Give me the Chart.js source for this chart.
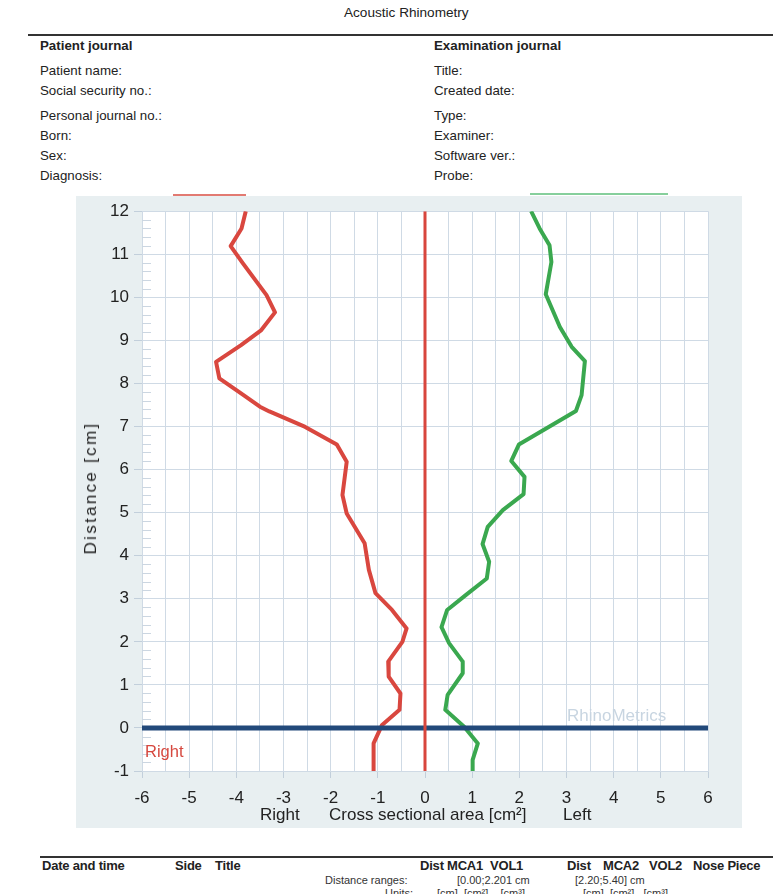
<!DOCTYPE html>
<html>
<head>
<meta charset="utf-8">
<script src="https://cdn.jsdelivr.net/npm/chart.js@4.4.1/dist/chart.umd.min.js"></script>
<style>
	body { margin: 0; background: #fff; font-family: "Liberation Sans", Arial, sans-serif; color: #222; }
	#page { position: relative; width: 773px; height: 894px; overflow: hidden; }
	.t { position: absolute; white-space: nowrap; font-size: 13.3px; line-height: 16px; }
	.b { font-weight: bold; }
	.f { font-size: 13px; letter-spacing: -0.2px; }
	.s { font-size: 11px; line-height: 13px; color: #333; }
	.rule { position: absolute; height: 2px; background: #333; }
	#box { position: absolute; left: 76px; top: 196px; width: 666px; height: 632px; background: #e8eff1; }
	#chartWrap { position: absolute; left: 76px; top: 196px; width: 666px; height: 632px; }
</style>
</head>
<body>
<div id="page">
	<div class="t" style="left:344px;top:5px;font-size:13.6px;">Acoustic Rhinometry</div>
	<div class="rule" style="left:28px;top:34px;width:745px;"></div>

	<div class="t b" style="left:40px;top:38px;">Patient journal</div>
	<div class="t" style="left:40px;top:63px;">Patient name:</div>
	<div class="t" style="left:40px;top:83px;">Social security no.:</div>
	<div class="t" style="left:40px;top:108px;">Personal journal no.:</div>
	<div class="t" style="left:40px;top:128px;">Born:</div>
	<div class="t" style="left:40px;top:148px;">Sex:</div>
	<div class="t" style="left:40px;top:168px;">Diagnosis:</div>

	<div class="t b" style="left:434px;top:38px;">Examination journal</div>
	<div class="t" style="left:434px;top:63px;">Title:</div>
	<div class="t" style="left:434px;top:83px;">Created date:</div>
	<div class="t" style="left:434px;top:108px;">Type:</div>
	<div class="t" style="left:434px;top:128px;">Examiner:</div>
	<div class="t" style="left:434px;top:148px;">Software ver.:</div>
	<div class="t" style="left:434px;top:168px;">Probe:</div>

	<div id="box"></div>
	<div style="position:absolute;left:173px;top:194px;width:73px;height:2px;background:#e27a72;"></div>
	<div style="position:absolute;left:530px;top:193px;width:138px;height:2px;background:#86cf9c;"></div>
	<div id="chartWrap"><canvas id="rhinoChart" width="666" height="632"></canvas></div>

	<div class="t" style="top:488px;left:91px;font-size:17px;line-height:18px;letter-spacing:2.3px;transform:translate(-50%,-50%) rotate(-90deg);transform-origin:center;">Distance [cm]</div>
	<div class="t" style="left:567px;top:706px;font-size:17px;line-height:20px;color:#c8d5e1;">RhinoMetrics</div>
	<div class="t" style="left:145px;top:741px;font-size:16.5px;line-height:20px;color:#d6483f;">Right</div>
	<div class="t" style="left:260px;top:805px;font-size:17px;line-height:19px;">Right</div>
	<div class="t" style="left:329px;top:805px;font-size:17px;line-height:19px;">Cross sectional area [cm²]</div>
	<div class="t" style="left:563px;top:805px;font-size:17px;line-height:19px;">Left</div>

	<div class="rule" style="left:40px;top:856px;width:733px;height:1.5px;"></div>
	<div class="t b f" style="left:42px;top:858px;">Date and time</div>
	<div class="t b f" style="left:175px;top:858px;">Side</div>
	<div class="t b f" style="left:215px;top:858px;">Title</div>
	<div class="t b f" style="left:420px;top:858px;">Dist</div>
	<div class="t b f" style="left:447px;top:858px;">MCA1</div>
	<div class="t b f" style="left:490px;top:858px;">VOL1</div>
	<div class="t b f" style="left:567px;top:858px;">Dist</div>
	<div class="t b f" style="left:603px;top:858px;">MCA2</div>
	<div class="t b f" style="left:649px;top:858px;">VOL2</div>
	<div class="t b f" style="left:693px;top:858px;">Nose Piece</div>
	<div class="t s" style="left:325px;top:874px;">Distance ranges:</div>
	<div class="t s" style="left:457px;top:874px;">[0.00;2.201 cm</div>
	<div class="t s" style="left:575px;top:874px;">[2.20;5.40] cm</div>
	<div class="t s" style="left:385px;top:887px;">Units:</div>
	<div class="t s" style="left:437px;top:887px;">[cm] &nbsp;[cm²] &nbsp;&nbsp;&nbsp;[cm³]</div>
	<div class="t s" style="left:583px;top:887px;">[cm] &nbsp;[cm²] &nbsp;&nbsp;[cm³]</div>
</div>

<script>
//	Right side (red) curve: distance [cm] and cross sectional area [cm2], drawn as negative
var rightDist = [12, 11.6, 11.19, 10.79, 10.05, 9.65, 9.24, 8.89, 8.5, 8.12, 7.77, 7.46, 7.35, 6.99, 6.58, 6.18, 5.41, 4.98, 4.29, 3.67, 3.13, 2.74, 2.31, 2.0, 1.54, 1.19, 0.8, 0.42, 0.07, -0.36, -1.0];
var rightArea = [-3.8, -3.89, -4.12, -3.86, -3.36, -3.18, -3.47, -3.9, -4.43, -4.36, -3.9, -3.5, -3.3, -2.54, -1.87, -1.66, -1.75, -1.66, -1.28, -1.19, -1.05, -0.7, -0.39, -0.48, -0.78, -0.77, -0.52, -0.54, -0.91, -1.09, -1.09];

//	Left side (green) curve
var leftDist = [12, 11.6, 11.21, 10.82, 10.07, 9.31, 8.85, 8.52, 7.73, 7.36, 6.58, 6.2, 5.83, 5.43, 5.06, 4.67, 4.27, 3.86, 3.47, 3.09, 2.74, 2.34, 1.97, 1.54, 1.27, 0.77, 0.42, 0.03, -0.36, -0.74, -1.0];
var leftArea = [2.25, 2.43, 2.64, 2.68, 2.56, 2.86, 3.11, 3.39, 3.32, 3.2, 1.99, 1.83, 2.11, 2.09, 1.65, 1.33, 1.22, 1.36, 1.31, 0.87, 0.47, 0.35, 0.51, 0.8, 0.8, 0.48, 0.43, 0.83, 1.12, 1.01, 1.01];

//	Axis ranges and ticks
var areaMin = -6, areaMax = 6;
var distMin = -1, distMax = 12;
var distMinorStep = 0.2;

function toPoints(xs, ys) {
	var pts = [];
	for (let i = 0; i < xs.length; i++) {
		pts.push({ x: xs[i], y: ys[i] });
	}
	return pts;
}

function isWhole(v) {
	return Math.abs(v - Math.round(v)) < 1e-6;
}

//	White plot area + short minor ticks on the distance axis
var plotBackground = {
	id: 'plotBackground',
	beforeDraw: function (chart) {
		var a = chart.chartArea, ctx = chart.ctx;
		ctx.save();
		ctx.fillStyle = '#ffffff';
		ctx.fillRect(a.left, a.top, a.right - a.left, a.bottom - a.top);
		ctx.restore();
	},
	beforeDatasetsDraw: function (chart) {
		var a = chart.chartArea, ctx = chart.ctx, y = chart.scales.y;
		ctx.save();
		ctx.strokeStyle = '#cbd6e1';
		ctx.lineWidth = 1;
		for (let i = 1; i < (distMax - distMin) / distMinorStep; i++) {
			var v = distMin + i * distMinorStep;
			if (isWhole(v)) continue;
			var py = Math.round(y.getPixelForValue(v)) + 0.5;
			ctx.beginPath();
			ctx.moveTo(a.left, py);
			ctx.lineTo(a.left + 9, py);
			ctx.stroke();
		}
		ctx.restore();
	}
};

var ctx = document.getElementById('rhinoChart');
var rhinoChart = new Chart(ctx, {
	type: 'scatter',
	data: {
		datasets: [{
				//	center line
				data: toPoints([0, 0], [distMin, distMax]),
				borderColor: '#d8463d',
				borderWidth: 3,
				order: 0
			},
			{
				//	zero distance line
				data: toPoints([areaMin, areaMax], [0, 0]),
				borderColor: '#22497a',
				borderWidth: 5,
				order: 1
			},
			{
				data: toPoints(rightArea, rightDist),
				label: 'Right',
				borderColor: '#d9473f',
				borderWidth: 4,
				order: 2
			},
			{
				data: toPoints(leftArea, leftDist),
				label: 'Left',
				borderColor: '#3aa84f',
				borderWidth: 4,
				order: 2
			}
		]
	},
	options: {
		animation: false,
		responsive: false,
		events: [],
		showLine: true,
		elements: {
			point: { radius: 0 },
			line: { tension: 0, borderJoinStyle: 'round', borderCapStyle: 'butt' }
		},
		layout: {
			padding: { left: 0, right: 34, top: 15, bottom: 0 }
		},
		plugins: {
			legend: { display: false },
			tooltip: { enabled: false }
		},
		scales: {
			x: {
				type: 'linear',
				min: areaMin,
				max: areaMax,
				afterFit: function (s) { s.height = 57; },
				afterBuildTicks: function (s) {
					var t = [];
					for (let i = 0; i <= (areaMax - areaMin) * 2; i++) t.push({ value: areaMin + i * 0.5 });
					s.ticks = t;
				},
				ticks: {
					autoSkip: false,
					maxRotation: 0,
					padding: 10,
					color: '#222',
					font: { family: 'Liberation Sans', size: 17 },
					callback: function (v) { return isWhole(v) ? String(Math.round(v)) : ''; }
				},
				grid: {
					color: '#cfdae5',
					lineWidth: 1,
					tickLength: 7,
					tickColor: function (c) { return isWhole(c.tick.value) ? '#c2cfdb' : 'rgba(0,0,0,0)'; }
				},
				border: { display: true, color: '#cfdae5' }
			},
			y: {
				type: 'linear',
				min: distMin,
				max: distMax,
				afterFit: function (s) { s.width = 66; },
				ticks: {
					stepSize: 1,
					padding: 5,
					color: '#222',
					font: { family: 'Liberation Sans', size: 17 }
				},
				grid: {
					color: '#cfdae5',
					lineWidth: 1,
					tickLength: 8,
					tickColor: '#c2cfdb'
				},
				border: { display: true, color: '#cfdae5' }
			}
		}
	},
	plugins: [plotBackground]
});
</script>
</body>
</html>
